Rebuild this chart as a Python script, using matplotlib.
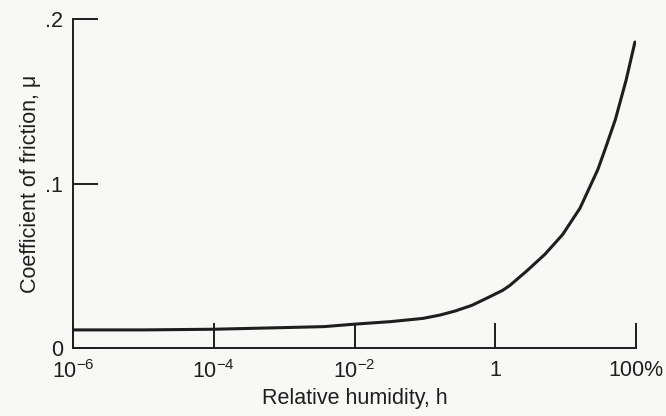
import matplotlib
matplotlib.use("Agg")
import matplotlib.pyplot as plt

# values
humidity = [1e-6, 1e-5, 1e-4, 1e-3, 0.0037, 0.01, 0.032, 0.094, 0.163, 0.27, 0.47,
            0.82, 1.27, 1.61, 2.83, 5.09, 9.08, 16.0, 28.7, 36.3, 51.0, 72.5, 96.6]
friction = [0.011, 0.011, 0.0114, 0.0124, 0.013, 0.0145, 0.016, 0.018, 0.020, 0.0225, 0.026,
            0.031, 0.035, 0.038, 0.047, 0.057, 0.069, 0.085, 0.1085, 0.1207, 0.139, 0.163, 0.186]

x_ticks = [1e-6, 1e-4, 1e-2, 1, 100]
x_labels = ["10$^{-6}$", "10$^{-4}$", "10$^{-2}$", "1", "100%"]
y_ticks = [0, 0.1, 0.2]
y_labels = ["0", ".1", ".2"]

plt.rcParams['font.family'] = ['Liberation Sans', 'DejaVu Sans']
plt.rcParams['mathtext.fontset'] = 'custom'
plt.rcParams['mathtext.rm'] = 'Liberation Sans'
plt.rcParams['mathtext.it'] = 'Liberation Sans:italic'

ink = '#1e1e1e'
fig = plt.figure(figsize=(6.66, 4.16), dpi=100, facecolor='#f8f8f6')
ax = fig.add_axes([73/666, 68/416, 563/666, 329/416])
ax.set_facecolor('#f8f8f6')

ax.plot(humidity, friction, color=ink, lw=2.2, solid_capstyle='round',
        solid_joinstyle='round')

ax.set_xscale('log')
ax.set_xlim(1e-6, 100)
ax.set_ylim(0, 0.2)
ax.set_xticks(x_ticks)
ax.set_xticklabels(x_labels)
ax.minorticks_off()
ax.set_yticks(y_ticks)
ax.set_yticklabels(y_labels)

for side in ['top', 'right']:
    ax.spines[side].set_visible(False)
for side in ['left', 'bottom']:
    ax.spines[side].set_linewidth(1.4)
    ax.spines[side].set_color(ink)

ax.tick_params(axis='both', direction='in', length=18, width=1.4, color=ink,
               labelsize=15.5, labelcolor=ink)
ax.tick_params(axis='x', pad=9)
ax.tick_params(axis='y', pad=7)

ax.set_xlabel('Relative humidity, h', fontsize=15.5, color=ink, labelpad=3)
ax.set_ylabel('Coefficient of friction, μ', fontsize=15.5, color=ink, labelpad=3)

fig.savefig('out.png', dpi=100, facecolor=fig.get_facecolor())
